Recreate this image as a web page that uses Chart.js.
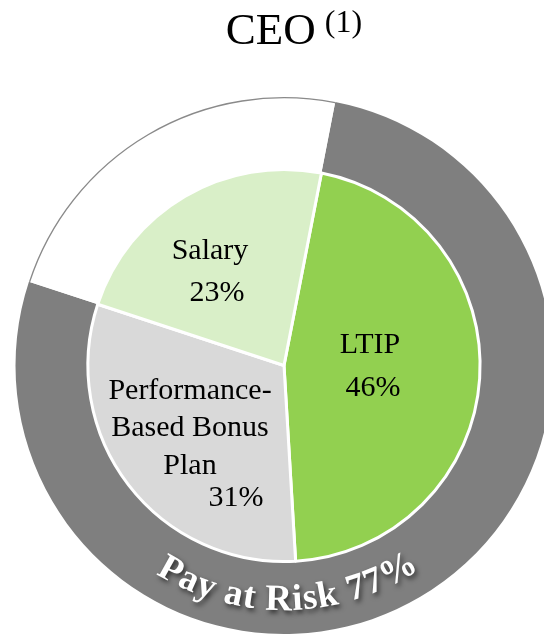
<!DOCTYPE html>
<html>
<head>
<meta charset="utf-8">
<script src="https://cdn.jsdelivr.net/npm/chart.js@4/dist/chart.umd.min.js"></script>
<style>
  html, body { margin: 0; padding: 0; background: #fff; overflow: hidden; }
  #wrap { position: relative; width: 544px; height: 635px; overflow: hidden; }
  #payChart { position: absolute; left: 0; top: 0; }
</style>
</head>
<body>
<div id="wrap"><canvas id="payChart" width="570" height="635"></canvas></div>
<script>
// inner pie: pay mix
const mixLabels = ["LTIP", "Performance-Based Bonus Plan", "Salary"];
const mixLines = [["LTIP"], ["Performance-", "Based Bonus", "Plan"], ["Salary"]];
const mixValues = [46, 31, 23];

// outer ring: pay at risk vs fixed
const riskLabels = ["Pay at Risk", "Fixed"];
const riskValues = [77, 23];

const titleMain = "CEO";
const titleNote = "(1)";

const serif = "'Liberation Serif', 'Times New Roman', serif";

// label anchors, offset from the pie centre (px)
const labelSpots = [
  { name: [86, -13], pct: [89, 30] },
  { name: [-94, 33], pct: [-48, 140] },
  { name: [-74, -107], pct: [-67, -65] },
];

const titlePlugin = {
  id: "ceoTitle",
  afterDraw(chart) {
    const ctx = chart.ctx;
    const meta = chart.getDatasetMeta(0);
    const cx = meta.data[0].x;
    ctx.save();
    ctx.fillStyle = "#000";
    ctx.textBaseline = "alphabetic";
    ctx.textAlign = "left";
    ctx.font = "45px " + serif;
    const w1 = ctx.measureText(titleMain).width;
    ctx.font = "32px " + serif;
    const w2 = ctx.measureText(titleNote).width;
    const gap = 9;
    let x = cx + 10 - (w1 + gap + w2) / 2;
    ctx.font = "45px " + serif;
    ctx.fillText(titleMain, x, 44);
    ctx.font = "32px " + serif;
    ctx.fillText(titleNote, x + w1 + gap, 32);
    ctx.restore();
  },
};

const labelPlugin = {
  id: "sliceLabels",
  afterDatasetsDraw(chart) {
    const ctx = chart.ctx;
    const outer = chart.getDatasetMeta(0).data;
    const inner = chart.getDatasetMeta(1).data;
    const cx = inner[0].x;
    const cy = inner[0].y;

    // thin outline on the outer edge of the white ring segment
    const w = outer[1];
    ctx.save();
    ctx.beginPath();
    ctx.arc(cx, cy, w.outerRadius - 0.7, w.startAngle, w.endAngle);
    ctx.strokeStyle = "#8a8a8a";
    ctx.lineWidth = 1.4;
    ctx.stroke();
    ctx.restore();

    // slice labels
    ctx.save();
    ctx.fillStyle = "#000";
    ctx.font = "30px " + serif;
    ctx.textAlign = "center";
    ctx.textBaseline = "alphabetic";
    mixValues.forEach((v, i) => {
      const spot = labelSpots[i];
      mixLines[i].forEach((line, j) => {
        ctx.fillText(line, cx + spot.name[0], cy + spot.name[1] + j * 37.5);
      });
      ctx.fillText(v + "%", cx + spot.pct[0], cy + spot.pct[1]);
    });
    ctx.restore();

    // curved "Pay at Risk 77%" along the bottom of the ring
    const ring = outer[0];
    const text = riskLabels[0] + " " + riskValues[0] + "%";
    const r = ring.outerRadius - 24;
    const mid = Math.PI / 2 - 0.017;
    ctx.save();
    ctx.font = "bold 37px " + serif;
    ctx.fillStyle = "#fff";
    ctx.textAlign = "center";
    ctx.textBaseline = "alphabetic";
    ctx.shadowColor = "rgba(0,0,0,0.65)";
    ctx.shadowBlur = 5;
    ctx.shadowOffsetX = 2;
    ctx.shadowOffsetY = 3;
    const spacing = 1;
    const widths = [...text].map((ch) => ctx.measureText(ch).width + spacing);
    const total = widths.reduce((a, b) => a + b, 0);
    let ang = mid + total / (2 * r);
    [...text].forEach((ch, i) => {
      const a = ang - widths[i] / (2 * r);
      ctx.save();
      ctx.translate(cx + r * Math.cos(a), cy + r * Math.sin(a));
      ctx.rotate(a - Math.PI / 2);
      ctx.fillText(ch, 0, 0);
      ctx.restore();
      ang -= widths[i] / r;
    });
    ctx.restore();
  },
};

const config = {
  type: "pie",
  data: {
    labels: mixLabels,
    datasets: [
      {
        label: "Pay at Risk",
        data: riskValues,
        backgroundColor: ["#7f7f7f", "#ffffff"],
        borderWidth: 0,
        weight: 72,
        rotation: 11,
        order: 1,
      },
      {
        label: "Pay Mix",
        data: mixValues,
        backgroundColor: ["#92d050", "#d9d9d9", "#d9efc8"],
        borderColor: "#ffffff",
        borderWidth: 3,
        weight: 195,
        rotation: 11,
        order: 0,
      },
    ],
  },
  options: {
    responsive: false,
    animation: false,
    layout: { padding: { top: 97, bottom: 1, left: 0, right: 2 } },
    plugins: {
      legend: { display: false },
      tooltip: { enabled: false },
      title: { display: false },
    },
  },
  plugins: [titlePlugin, labelPlugin],
};

new Chart(document.getElementById("payChart"), config);
</script>
</body>
</html>
